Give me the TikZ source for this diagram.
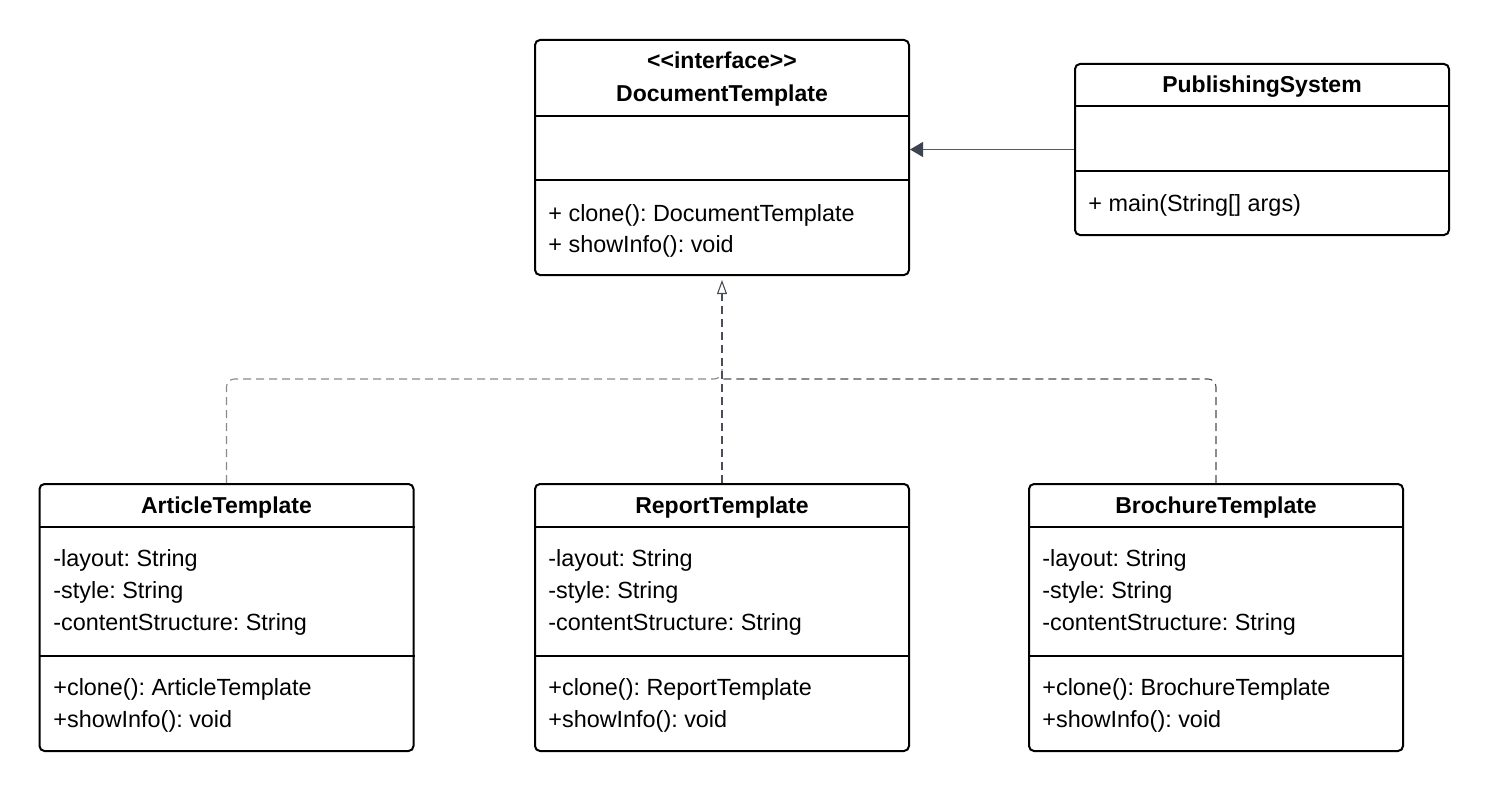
\documentclass[tikz,border=0pt]{standalone}
\usepackage{fontspec}
\setmainfont{Liberation Sans}[Ligatures=NoCommon]
\usetikzlibrary{arrows.meta}
\frenchspacing
\definecolor{arrowdark}{HTML}{3D4350}
\definecolor{lineA}{HTML}{555A63}
\definecolor{lineL}{HTML}{8A8A8A}
\definecolor{lineR}{HTML}{4A4E57}
\tikzset{
  umlbox/.style={draw=black, line width=1pt, rounded corners=2.5pt, minimum width=187pt, inner sep=0pt},
  divider/.style={draw=black, line width=1pt},
  txt/.style={anchor=base west, inner sep=0pt, font=\fontsize{11.7pt}{14pt}\selectfont},
  ttl/.style={anchor=base, inner sep=0pt, font=\fontsize{11.5pt}{14pt}\selectfont\bfseries},
  realize/.style={line width=0.55pt, dash pattern=on 4pt off 2.5pt},
  assoc/.style={line width=0.55pt, draw=lineA, -{Triangle[length=6.5pt,width=7.5pt,fill=arrowdark,color=arrowdark]}}
}
\begin{document}
\begin{tikzpicture}[x=0.5pt,y=-0.5pt]
\useasboundingbox (0,0) rectangle (1489,792);
% boxes
\node[umlbox, minimum height=117.5pt] (dt) at (722,157.5) {};
\node[umlbox, minimum height=85.5pt] (ps) at (1262,149.5) {};
\node[umlbox, minimum height=133.5pt] (art) at (226.5,617.5) {};
\node[umlbox, minimum height=133.5pt] (rep) at (722,617.5) {};
\node[umlbox, minimum height=133.5pt] (bro) at (1216,617.5) {};
% dividers
\draw[divider] (dt.west |- 0,116) -- (dt.east |- 0,116);
\draw[divider] (dt.west |- 0,180) -- (dt.east |- 0,180);
\draw[divider] (ps.west |- 0,106) -- (ps.east |- 0,106);
\draw[divider] (ps.west |- 0,171) -- (ps.east |- 0,171);
\foreach \b in {art,rep,bro}{
  \draw[divider] (\b.west |- 0,527) -- (\b.east |- 0,527);
  \draw[divider] (\b.west |- 0,656) -- (\b.east |- 0,656);
}
% DocumentTemplate texts
\node[ttl] (dtst) at (722,69) {<{}<interface>{}>};
\node[ttl] (dtname) at (722,102) {DocumentTemplate};
\node[txt] (dtm1) at (548,221) {+ clone(): DocumentTemplate};
\node[txt] (dtm2) at (548,252) {+ showInfo(): void};
% PublishingSystem texts
\node[ttl] (psname) at (1262,93) {PublishingSystem};
\node[txt] (psm1) at (1088,212) {+ main(String[] args)};
% ArticleTemplate
\node[ttl] (artname) at (226.5,513) {ArticleTemplate};
\node[txt] (arta1) at (53,566) {-layout: String};
\node[txt] (arta2) at (53,598) {-style: String};
\node[txt] (arta3) at (53,630) {-contentStructure: String};
\node[txt] (artm1) at (53,695) {+clone(): ArticleTemplate};
\node[txt] (artm2) at (53,727) {+showInfo(): void};
% ReportTemplate
\node[ttl] (repname) at (722,513) {ReportTemplate};
\node[txt] (repa1) at (548,566) {-layout: String};
\node[txt] (repa2) at (548,598) {-style: String};
\node[txt] (repa3) at (548,630) {-contentStructure: String};
\node[txt] (repm1) at (548,695) {+clone(): ReportTemplate};
\node[txt] (repm2) at (548,727) {+showInfo(): void};
% BrochureTemplate
\node[ttl] (broname) at (1216,513) {BrochureTemplate};
\node[txt] (broa1) at (1042,566) {-layout: String};
\node[txt] (broa2) at (1042,598) {-style: String};
\node[txt] (broa3) at (1042,630) {-contentStructure: String};
\node[txt] (brom1) at (1042,695) {+clone(): BrochureTemplate};
\node[txt] (brom2) at (1042,727) {+showInfo(): void};
% association
\draw[assoc] (ps.west) -- (ps.west -| dt.east);
% realizations
\coordinate (j) at (722,379);
\coordinate (jup) at (722,369);
\draw[realize, draw=lineL, rounded corners=4pt] (art.north) |- (j) -- (jup);
\draw[realize, draw=lineR, rounded corners=4pt] (bro.north) |- (j);
\draw[realize, draw=lineR, shorten >=2pt, -{Triangle[open,length=7pt,width=5pt,line width=0.55pt]}] (rep.north) -- (dt.south);
\end{tikzpicture}
\end{document}
